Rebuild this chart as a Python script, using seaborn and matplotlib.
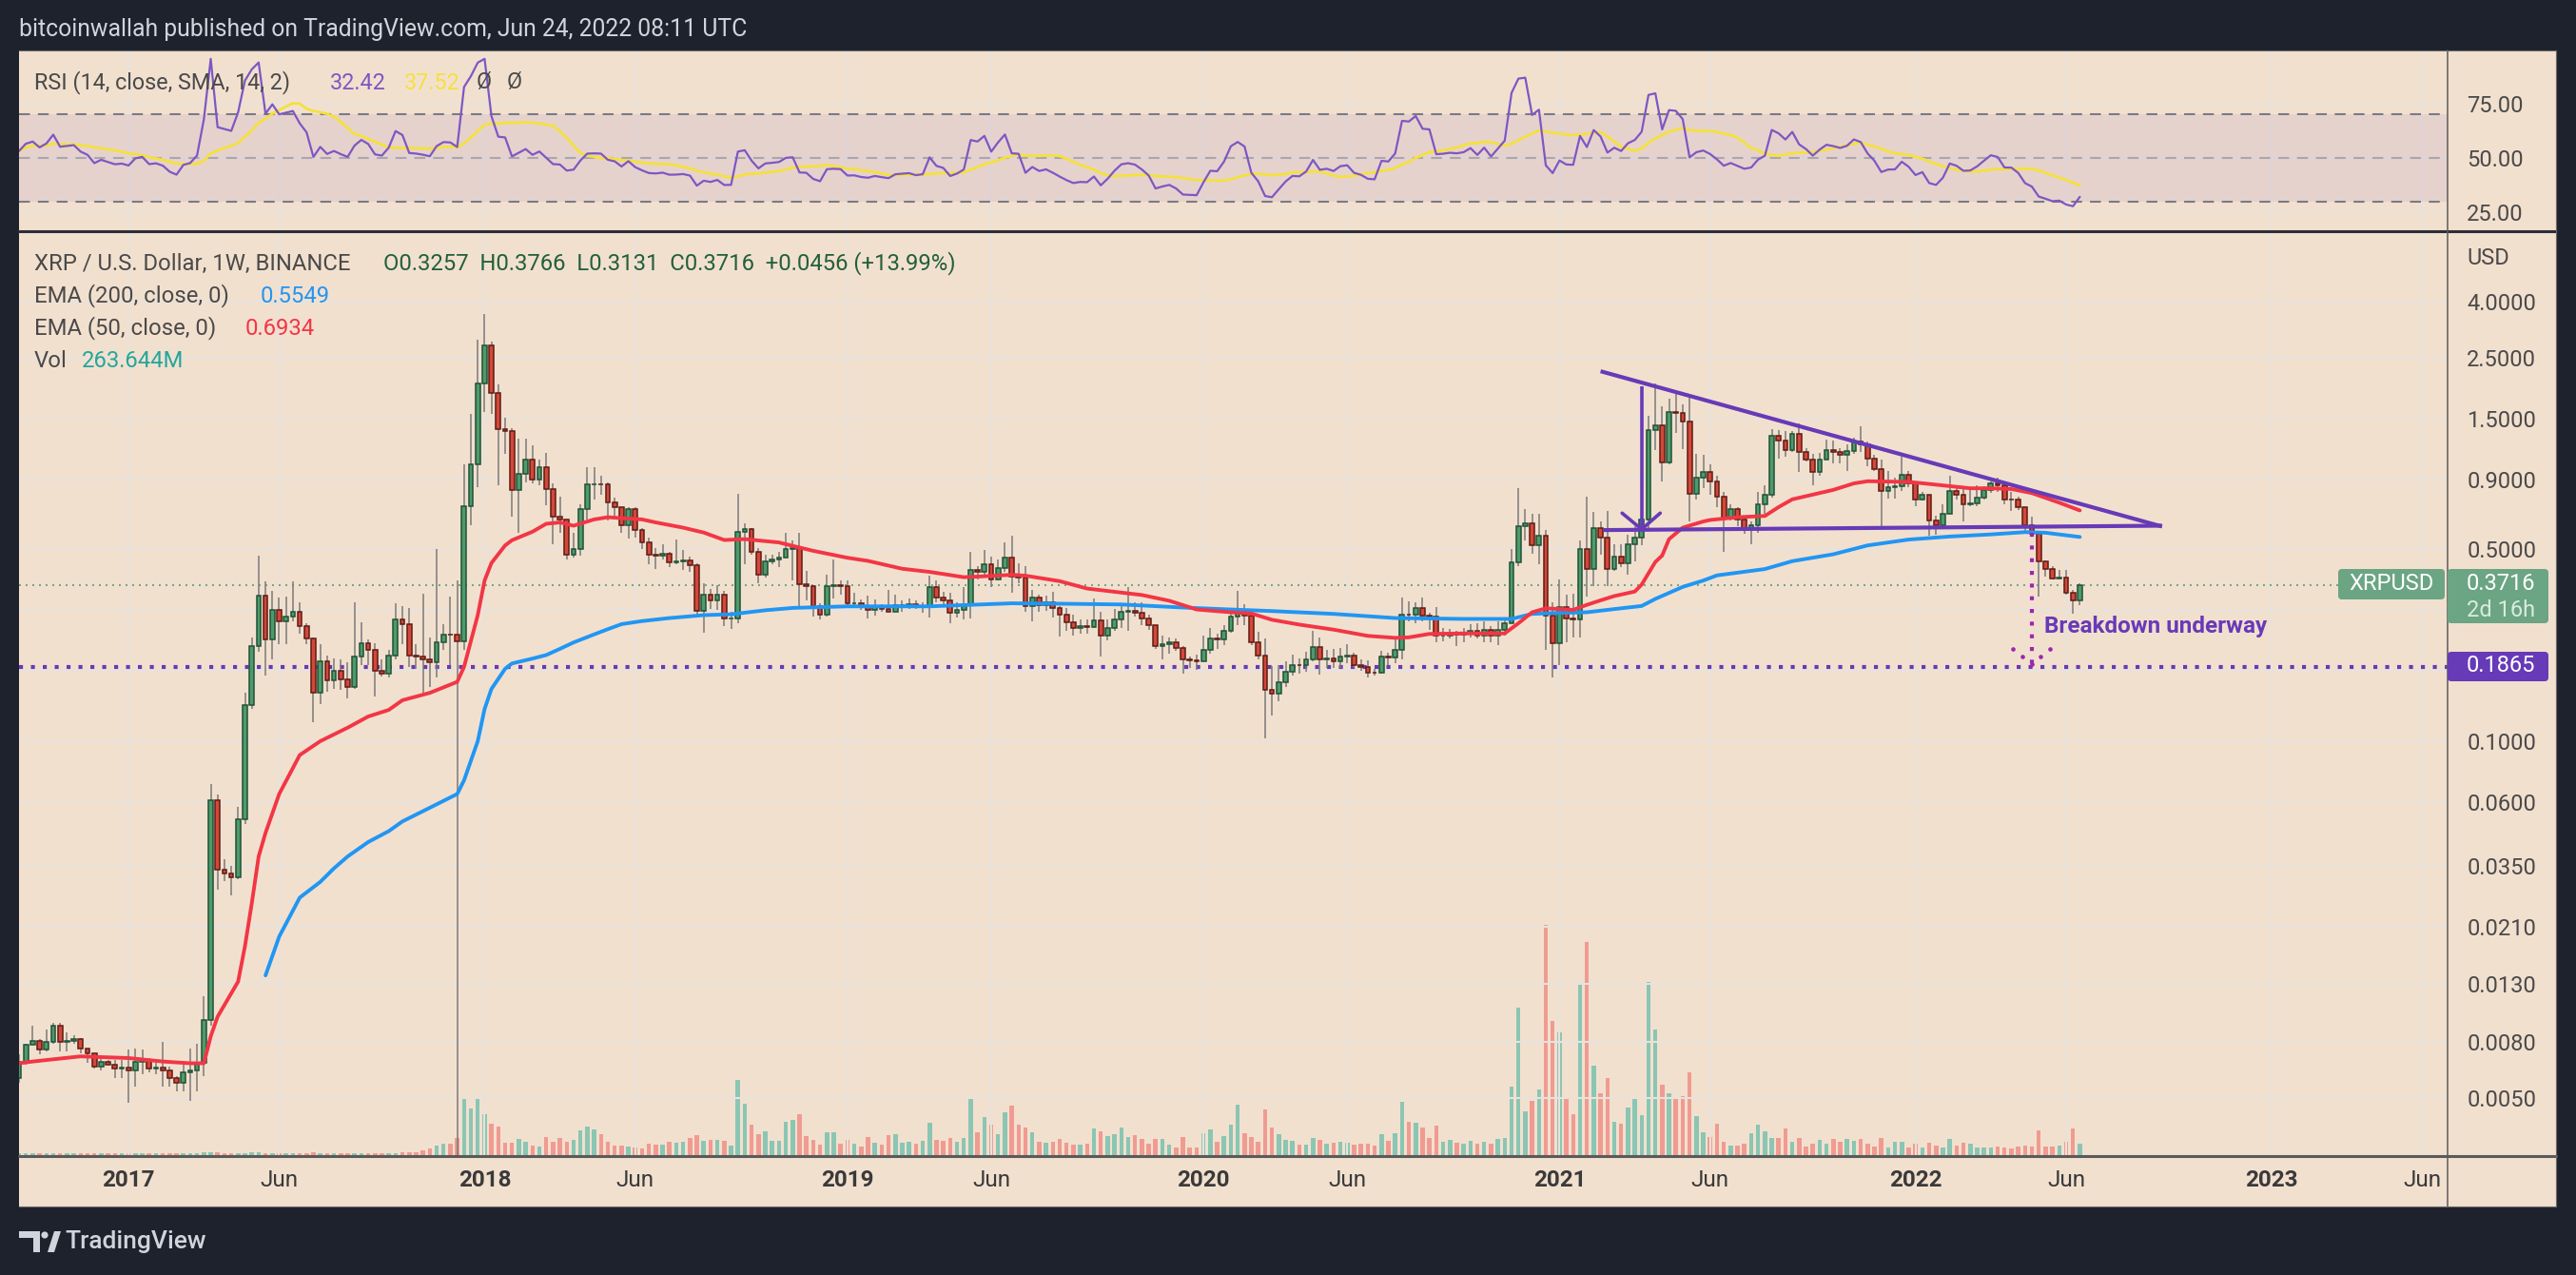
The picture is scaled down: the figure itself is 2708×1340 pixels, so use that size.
import numpy as np
import pandas as pd
import matplotlib
matplotlib.use('Agg')
import matplotlib.pyplot as plt
from matplotlib.patches import Rectangle, FancyBboxPatch, Polygon, Circle
from matplotlib.lines import Line2D
from matplotlib.transforms import IdentityTransform
from matplotlib.ticker import NullLocator, NullFormatter
import seaborn as sns

# ---------------- data (weekly XRP/USD candles) ----------------
first_week = '2016-09-12'
first_open = 0.0059

closes = [
    0.0068, 0.0078, 0.0081, 0.0075, 0.0080, 0.0092, 0.0080, 0.0081, 0.0082, 0.0076,
    0.0073, 0.0065, 0.0068, 0.0066, 0.0064, 0.00645, 0.0063, 0.0068, 0.0069, 0.0064,
    0.00645, 0.0063, 0.0059, 0.0057, 0.0062, 0.0063, 0.0067, 0.0096, 0.061, 0.034,
    0.033, 0.032, 0.052, 0.135, 0.222, 0.34, 0.234, 0.301, 0.273, 0.284,
    0.295, 0.262, 0.236, 0.150, 0.195, 0.167, 0.180, 0.168, 0.158, 0.203,
    0.228, 0.215, 0.180, 0.176, 0.205, 0.278, 0.266, 0.205, 0.203, 0.199,
    0.194, 0.230, 0.245, 0.244, 0.232, 0.72, 1.02, 2.01, 2.76, 1.855,
    1.37, 1.35, 0.823, 0.94, 1.06, 0.90, 1.00, 0.83, 0.656, 0.645,
    0.48, 0.50, 0.70, 0.86, 0.865, 0.86, 0.74, 0.71, 0.61, 0.70,
    0.59, 0.53, 0.48, 0.473, 0.483, 0.45, 0.452, 0.457, 0.437, 0.298,
    0.342, 0.326, 0.342, 0.28, 0.281, 0.58, 0.595, 0.49, 0.405, 0.452,
    0.458, 0.465, 0.50, 0.505, 0.372, 0.368, 0.31, 0.288, 0.367, 0.37,
    0.367, 0.318, 0.319, 0.307, 0.302, 0.31, 0.303, 0.297, 0.312, 0.314,
    0.316, 0.307, 0.31, 0.365, 0.333, 0.325, 0.293, 0.30, 0.312, 0.42,
    0.415, 0.44, 0.388, 0.428, 0.466, 0.397, 0.395, 0.31, 0.333, 0.314,
    0.32, 0.305, 0.288, 0.272, 0.259, 0.262, 0.261, 0.275, 0.242, 0.258,
    0.278, 0.295, 0.298, 0.294, 0.281, 0.264, 0.222, 0.226, 0.229, 0.218,
    0.198, 0.197, 0.196, 0.216, 0.236, 0.235, 0.252, 0.284, 0.294, 0.286,
    0.229, 0.205, 0.154, 0.149, 0.164, 0.179, 0.19, 0.189, 0.198, 0.221,
    0.198, 0.20, 0.195, 0.2035, 0.205, 0.19, 0.186, 0.178, 0.177, 0.2035,
    0.2025, 0.215, 0.289, 0.288, 0.305, 0.286, 0.285, 0.242, 0.243, 0.245,
    0.244, 0.246, 0.253, 0.243, 0.255, 0.242, 0.255, 0.269, 0.449, 0.606,
    0.62, 0.516, 0.559, 0.287, 0.228, 0.309, 0.28, 0.278, 0.50, 0.423,
    0.60, 0.553, 0.424, 0.472, 0.445, 0.52, 0.553, 0.64, 1.366, 1.42,
    1.04, 1.58, 1.57, 1.46, 0.795, 0.916, 0.954, 0.886, 0.781, 0.652,
    0.70, 0.645, 0.591, 0.61, 0.728, 0.788, 1.294, 1.244, 1.155, 1.32,
    1.135, 1.061, 0.954, 1.061, 1.149, 1.13, 1.105, 1.14, 1.24, 1.21,
    1.075, 0.979, 0.817, 0.846, 0.848, 0.933, 0.87, 0.761, 0.79, 0.637,
    0.61, 0.675, 0.817, 0.79, 0.731, 0.734, 0.77, 0.82, 0.87, 0.855,
    0.761, 0.76, 0.712, 0.61, 0.572, 0.453, 0.424, 0.392, 0.395, 0.347,
    0.3257, 0.3716,
]

highs = [
    0.0072, 0.0079, 0.0092, 0.0082, 0.0089, 0.0094, 0.0094, 0.0087, 0.0085, 0.0083,
    0.0076, 0.0073, 0.0071, 0.0069, 0.0069, 0.0069, 0.0075, 0.0076, 0.0075, 0.0070,
    0.0068, 0.0080, 0.0065, 0.0060, 0.0066, 0.0076, 0.0079, 0.0118, 0.070, 0.064,
    0.037, 0.035, 0.0577, 0.150, 0.238, 0.475, 0.382, 0.353, 0.333, 0.336,
    0.382, 0.322, 0.27, 0.238, 0.226, 0.205, 0.20, 0.198, 0.194, 0.322,
    0.271, 0.234, 0.228, 0.198, 0.215, 0.318, 0.31, 0.305, 0.226, 0.346,
    0.238, 0.50, 0.268, 0.336, 0.385, 1.019, 1.559, 2.914, 3.6, 2.87,
    1.996, 1.506, 1.383, 1.266, 1.266, 1.195, 1.065, 1.123, 0.87, 0.78,
    0.644, 0.576, 0.73, 0.997, 1.0, 0.93, 0.88, 0.775, 0.71, 0.71,
    0.71, 0.60, 0.553, 0.505, 0.523, 0.49, 0.545, 0.496, 0.47, 0.445,
    0.375, 0.36, 0.37, 0.352, 0.296, 0.795, 0.62, 0.60, 0.505, 0.48,
    0.48, 0.49, 0.576, 0.54, 0.576, 0.418, 0.37, 0.317, 0.405, 0.458,
    0.385, 0.385, 0.3465, 0.329, 0.339, 0.329, 0.316, 0.356, 0.342, 0.325,
    0.330, 0.325, 0.322, 0.401, 0.384, 0.351, 0.3465, 0.32, 0.365, 0.49,
    0.435, 0.496, 0.47, 0.458, 0.53, 0.56, 0.446, 0.435, 0.357, 0.342,
    0.339, 0.351, 0.31, 0.305, 0.288, 0.277, 0.277, 0.33, 0.2954, 0.277,
    0.303, 0.312, 0.365, 0.322, 0.32, 0.288, 0.2657, 0.242, 0.239, 0.2362,
    0.222, 0.2035, 0.2063, 0.242, 0.2587, 0.2455, 0.2657, 0.2995, 0.354, 0.316,
    0.289, 0.25, 0.2362, 0.188, 0.19, 0.195, 0.2075, 0.2, 0.212, 0.253,
    0.238, 0.216, 0.2175, 0.2195, 0.226, 0.21, 0.198, 0.197, 0.183, 0.2135,
    0.21, 0.238, 0.333, 0.324, 0.32, 0.335, 0.294, 0.307, 0.2586, 0.257,
    0.253, 0.2586, 0.266, 0.269, 0.273, 0.262, 0.273, 0.282, 0.503, 0.838,
    0.702, 0.674, 0.674, 0.588, 0.322, 0.388, 0.342, 0.346, 0.537, 0.78,
    0.683, 0.63, 0.69, 0.523, 0.523, 0.567, 0.606, 0.678, 1.539, 2.005,
    1.667, 1.767, 1.852, 1.689, 1.78, 1.112, 1.105, 1.019, 0.929, 0.813,
    0.731, 0.711, 0.666, 0.631, 0.813, 0.857, 1.375, 1.366, 1.345, 1.345,
    1.44, 1.165, 1.119, 1.125, 1.26, 1.244, 1.165, 1.212, 1.275, 1.402,
    1.238, 1.105, 1.061, 0.966, 0.916, 1.09, 0.966, 0.881, 0.813, 0.792,
    0.662, 0.731, 0.929, 0.857, 0.835, 0.83, 0.857, 0.853, 0.881, 0.916,
    0.857, 0.813, 0.781, 0.714, 0.658, 0.578, 0.455, 0.433, 0.42, 0.42,
    0.355, 0.3766,
]

lows = [
    0.0057, 0.0066, 0.0078, 0.0072, 0.0074, 0.0079, 0.0074, 0.0074, 0.0079, 0.0073,
    0.0067, 0.0064, 0.0063, 0.0066, 0.0059, 0.0059, 0.0048, 0.0055, 0.0061, 0.0062,
    0.0061, 0.0055, 0.0055, 0.0053, 0.0053, 0.0049, 0.0053, 0.0060, 0.0092, 0.0288,
    0.031, 0.0274, 0.0315, 0.050, 0.131, 0.212, 0.173, 0.198, 0.226, 0.226,
    0.273, 0.247, 0.226, 0.117, 0.137, 0.152, 0.155, 0.154, 0.143, 0.155,
    0.19, 0.19, 0.145, 0.172, 0.171, 0.198, 0.226, 0.186, 0.183, 0.150,
    0.158, 0.171, 0.215, 0.19, 0.002, 0.2147, 0.614, 0.845, 1.58, 1.559,
    0.857, 1.118, 0.656, 0.575, 0.88, 0.87, 0.857, 0.726, 0.523, 0.576,
    0.458, 0.468, 0.476, 0.644, 0.76, 0.79, 0.639, 0.65, 0.575, 0.548,
    0.553, 0.503, 0.443, 0.425, 0.458, 0.43, 0.44, 0.42, 0.414, 0.288,
    0.248, 0.304, 0.302, 0.262, 0.256, 0.27, 0.44, 0.48, 0.375, 0.395,
    0.44, 0.432, 0.468, 0.385, 0.3115, 0.327, 0.284, 0.278, 0.284, 0.332,
    0.342, 0.3115, 0.307, 0.302, 0.28, 0.2865, 0.297, 0.2954, 0.297, 0.297,
    0.303, 0.303, 0.294, 0.282, 0.320, 0.312, 0.2695, 0.282, 0.277, 0.28,
    0.388, 0.394, 0.365, 0.384, 0.414, 0.3465, 0.377, 0.297, 0.273, 0.297,
    0.2995, 0.282, 0.24, 0.2533, 0.242, 0.2455, 0.2467, 0.2587, 0.2035, 0.2326,
    0.2533, 0.2587, 0.252, 0.284, 0.2657, 0.2553, 0.2164, 0.198, 0.209, 0.2142,
    0.176, 0.185, 0.182, 0.1956, 0.209, 0.2164, 0.2235, 0.2487, 0.2657, 0.2657,
    0.2235, 0.198, 0.102, 0.124, 0.14, 0.158, 0.174, 0.176, 0.179, 0.195,
    0.175, 0.185, 0.185, 0.185, 0.1925, 0.185, 0.1806, 0.1706, 0.1733, 0.176,
    0.189, 0.1925, 0.198, 0.273, 0.269, 0.274, 0.255, 0.23, 0.231, 0.236,
    0.222, 0.23, 0.239, 0.236, 0.23, 0.23, 0.2234, 0.242, 0.27, 0.435,
    0.537, 0.483, 0.443, 0.216, 0.1706, 0.19, 0.23, 0.239, 0.239, 0.336,
    0.367, 0.479, 0.367, 0.417, 0.43, 0.405, 0.452, 0.519, 0.582, 1.149,
    0.881, 1.019, 1.33, 1.163, 0.631, 0.761, 0.835, 0.792, 0.711, 0.49,
    0.637, 0.607, 0.57, 0.523, 0.575, 0.675, 0.771, 1.075, 1.09, 1.133,
    0.954, 1.047, 0.857, 0.929, 1.068, 1.033, 1.033, 0.966, 1.119, 1.133,
    1.005, 0.966, 0.604, 0.765, 0.767, 0.817, 0.846, 0.72, 0.752, 0.56,
    0.565, 0.591, 0.69, 0.761, 0.631, 0.72, 0.72, 0.761, 0.802, 0.813,
    0.731, 0.69, 0.695, 0.575, 0.57, 0.3375, 0.397, 0.387, 0.389, 0.343,
    0.292, 0.3131,
]

# weekly volume, millions
volume_m = [
    43, 43, 50, 43, 36, 43, 43, 50, 43, 43,
    36, 43, 43, 43, 36, 43, 50, 43, 43, 36,
    43, 43, 43, 50, 43, 43, 43, 57, 71, 57,
    50, 50, 43, 50, 57, 57, 50, 50, 43, 43,
    43, 43, 50, 57, 50, 43, 43, 43, 43, 43,
    43, 43, 43, 43, 43, 50, 57, 64, 71, 100,
    143, 214, 264, 264, 393, 1285, 1057, 1271, 928, 714,
    650, 286, 286, 371, 307, 214, 193, 414, 307, 393,
    307, 336, 564, 650, 585, 478, 307, 221, 221, 200,
    171, 157, 257, 243, 243, 307, 286, 307, 393, 457,
    328, 350, 350, 328, 214, 1678, 1164, 693, 478, 543,
    328, 328, 757, 800, 928, 436, 350, 243, 521, 521,
    264, 350, 264, 200, 414, 286, 243, 457, 478, 286,
    307, 264, 328, 735, 350, 328, 393, 307, 393, 1271,
    521, 864, 693, 478, 971, 1121, 693, 628, 521, 307,
    286, 307, 371, 286, 243, 243, 264, 607, 543, 436,
    478, 628, 414, 457, 371, 264, 371, 371, 243, 179,
    414, 179, 179, 500, 585, 307, 436, 693, 1142, 500,
    414, 307, 1035, 628, 478, 350, 328, 243, 243, 393,
    350, 264, 286, 307, 286, 243, 264, 264, 221, 478,
    328, 500, 1207, 757, 735, 628, 393, 671, 307, 350,
    286, 264, 328, 264, 307, 264, 371, 393, 1528, 3306,
    992, 1228, 1464, 5169, 3006, 2749, 1250, 928, 3820, 4784,
    1999, 1378, 1721, 757, 714, 1078, 1271, 907, 3884, 2813,
    1571, 1378, 1292, 1335, 1849, 885, 521, 414, 714, 307,
    221, 221, 264, 500, 693, 543, 393, 393, 607, 307,
    393, 200, 264, 350, 264, 371, 307, 371, 328, 371,
    264, 200, 393, 179, 307, 307, 179, 264, 179, 286,
    221, 171, 371, 221, 286, 264, 179, 179, 179, 200,
    179, 157, 200, 221, 200, 564, 200, 200, 221, 307,
    607, 263.644,
]

# EMA values at selected candles (1 = first candle)
ema50_idx = [1, 3, 10, 17, 22, 26, 28, 29, 30, 33, 34, 35, 36, 37, 39, 42, 45, 49, 52, 55,
             57, 61, 65, 66, 68, 69, 70, 72, 73, 76, 78, 80, 82, 85, 87, 89, 92, 94, 98, 101,
             104, 107, 112, 114, 117, 122, 125, 130, 134, 139, 141, 146, 148, 153, 157, 162, 165, 169, 173, 178,
             181, 184, 188, 193, 198, 202, 204, 207, 212, 218, 220, 222, 224, 228, 230, 232, 234, 237, 238, 240,
             241, 242, 244, 247, 248, 252, 256, 258, 260, 266, 269, 271, 277, 280, 286, 289, 292, 295, 299, 302]
ema50_val = [0.0067, 0.0068, 0.0071, 0.0070, 0.0068, 0.0067, 0.0067, 0.0084, 0.0099, 0.0133,
             0.0179, 0.0257, 0.038, 0.0463, 0.0642, 0.089, 0.100, 0.112, 0.123, 0.130,
             0.141, 0.150, 0.1645, 0.1865, 0.288, 0.385, 0.446, 0.517, 0.54, 0.58,
             0.62, 0.627, 0.61, 0.643, 0.655, 0.65, 0.643, 0.627, 0.60, 0.576,
             0.541, 0.545, 0.53, 0.515, 0.494, 0.466, 0.454, 0.425, 0.414, 0.396,
             0.398, 0.404, 0.401, 0.383, 0.36, 0.348, 0.341, 0.325, 0.302, 0.295,
             0.292, 0.277, 0.266, 0.255, 0.242, 0.238, 0.239, 0.246, 0.247, 0.247,
             0.269, 0.295, 0.305, 0.301, 0.314, 0.326, 0.338, 0.351, 0.372, 0.45,
             0.475, 0.545, 0.60, 0.632, 0.64, 0.655, 0.662, 0.713, 0.761, 0.824,
             0.87, 0.886, 0.881, 0.866, 0.835, 0.835, 0.83, 0.802, 0.74, 0.6934]

ema200_idx = [37, 39, 42, 45, 47, 49, 52, 55, 57, 61, 65, 66, 68, 69, 70, 72, 73, 76, 78, 80,
              82, 85, 87, 89, 92, 96, 101, 105, 110, 114, 122, 134, 146, 153, 162, 171, 178, 184, 193, 202,
              212, 219, 222, 225, 230, 234, 238, 240, 244, 247, 249, 256, 260, 266, 271, 277, 283, 289, 294, 297,
              302]
ema200_val = [0.014, 0.0194, 0.0269, 0.0307, 0.0344, 0.038, 0.0429, 0.047, 0.051, 0.0572,
              0.0642, 0.072, 0.10, 0.131, 0.155, 0.1836, 0.192, 0.20, 0.206, 0.217,
              0.229, 0.245, 0.256, 0.267, 0.274, 0.281, 0.288, 0.29, 0.30, 0.306,
              0.31, 0.31, 0.318, 0.317, 0.315, 0.307, 0.302, 0.298, 0.291, 0.281,
              0.279, 0.279, 0.291, 0.293, 0.295, 0.303, 0.311, 0.33, 0.365, 0.385,
              0.402, 0.424, 0.453, 0.48, 0.517, 0.543, 0.557, 0.567, 0.578, 0.575,
              0.5549]

# RSI averages carried in from the history before the first visible candle
rsi_seed_gain = 0.0005
rsi_seed_loss = 0.0005

# drawings on the chart
tri_upper = (['2021-02-15', '2022-09-12'], [2.23, 0.606])
tri_base = (['2021-02-18', '2022-09-12'], [0.588, 0.61])
pole = (['2021-03-29', '2021-03-29'], [1.96, 0.59])
chevron = (['2021-03-09', '2021-03-29', '2021-04-17'], [0.678, 0.592, 0.678])
drop_line = (['2022-05-02', '2022-05-02'], [0.575, 0.1905])
drop_head = (['2022-04-13', '2022-04-22', '2022-05-02', '2022-05-11', '2022-05-20'],
             [0.2175, 0.2035, 0.1905, 0.2035, 0.2175])
support_level = 0.1865
last_price = 0.3716
note_pos = ('2022-05-15', 0.262)

price_ticks = [4.0, 2.5, 1.5, 0.9, 0.5, 0.3, 0.18, 0.1, 0.06, 0.035, 0.021, 0.013, 0.008, 0.005]
price_labels = ['4.0000', '2.5000', '1.5000', '0.9000', '0.5000', '', '', '0.1000', '0.0600',
                '0.0350', '0.0210', '0.0130', '0.0080', '0.0050']
time_ticks = ['2017-01-02', '2017-06-05', '2018-01-01', '2018-06-04', '2019-01-07', '2019-06-03',
              '2020-01-06', '2020-06-01', '2021-01-04', '2021-06-07', '2022-01-03', '2022-06-06',
              '2023-01-02', '2023-06-05']
time_labels = ['2017', 'Jun', '2018', 'Jun', '2019', 'Jun', '2020', 'Jun', '2021', 'Jun',
               '2022', 'Jun', '2023', 'Jun']

# ---------------- derived frame ----------------
df = pd.DataFrame({'close': closes, 'high': highs, 'low': lows, 'vol': volume_m})
df['date'] = pd.date_range(first_week, periods=len(df), freq='7D')
df['open'] = df['close'].shift(1).fillna(first_open)
df['up'] = df['close'] >= df['open']

# RSI 14 (Wilder) + SMA 14
delta = df['close'] - df['open']
gain = delta.clip(lower=0)
loss = -delta.clip(upper=0)
gain = pd.concat([pd.Series([rsi_seed_gain]), gain], ignore_index=True).ewm(alpha=1 / 14, adjust=False).mean().iloc[1:]
loss = pd.concat([pd.Series([rsi_seed_loss]), loss], ignore_index=True).ewm(alpha=1 / 14, adjust=False).mean().iloc[1:]
df['rsi'] = (100 - 100 / (1 + gain / loss)).values
df['rsi_sma'] = df['rsi'].rolling(14, min_periods=1).mean()

# ---------------- style ----------------
sns.set_theme(style='white')
plt.rcParams['font.family'] = ['Roboto', 'DejaVu Sans']

W, H = 2708, 1340
DARK = '#1e222d'
PANE = '#f2e0cf'
GRID = '#e8e2dc'
TXT = '#4a4a4a'
PURPLE = '#673ab7'
GREEN_FILL, GREEN_EDGE = '#4f9a6c', '#1f5236'
RED_FILL, RED_EDGE = '#d3483a', '#5e1b14'

def rect(x0, y0, x1, y1):
    return [x0 / W, 1 - y1 / H, (x1 - x0) / W, (y1 - y0) / H]

def ftext(x, y, s, **kw):
    kw.setdefault('va', 'center')
    fig.text(x / W, 1 - y / H, s, **kw)

def pxline(x0, y0, x1, y1, **kw):
    fig.add_artist(Line2D([x0, x1], [H - y0, H - y1], transform=IdentityTransform(), **kw))

fig = plt.figure(figsize=(W / 100, H / 100), dpi=100, facecolor=DARK)
fig.add_artist(Rectangle((20, H - 1268), 2667, 1215, transform=IdentityTransform(),
                         facecolor=PANE, edgecolor='none', zorder=-10))

xlim = (pd.Timestamp('2016-09-12'), pd.Timestamp('2023-07-01'))
tdates = pd.to_datetime(time_ticks)

# volume pane (behind price)
axv = fig.add_axes(rect(20, 245, 2573, 1214))
axv.set_zorder(1)
axv.patch.set_visible(False)
vcol = np.where(df['up'], '#8ac6b3', '#f09b91')
axv.bar(df['date'], df['vol'], width=4.4, color=vcol, linewidth=0)
axv.set_xlim(xlim)
axv.set_ylim(0, df['vol'].max() / 0.2497)
axv.axis('off')

# price pane
ax = fig.add_axes(rect(20, 245, 2573, 1214))
ax.set_zorder(2)
ax.patch.set_visible(False)
ax.set_yscale('log')
ax.set_xlim(xlim)
ax.set_ylim(0.0031, 7.107)
ax.set_axisbelow(True)

body_lo = np.minimum(df['open'], df['close'])
body_h = (df['close'] - df['open']).abs()
ax.vlines(df['date'], df['low'], df['high'], color='#7a7a7a', lw=1.1, zorder=3)
ax.bar(df['date'], body_h, bottom=body_lo, width=4.6,
       color=np.where(df['up'], GREEN_FILL, RED_FILL),
       edgecolor=np.where(df['up'], GREEN_EDGE, RED_EDGE), linewidth=1.1, zorder=4)

sns.lineplot(x=df['date'].iloc[np.array(ema200_idx) - 1].values, y=ema200_val, ax=ax,
             color='#2196f3', lw=2.8, zorder=5)
sns.lineplot(x=df['date'].iloc[np.array(ema50_idx) - 1].values, y=ema50_val, ax=ax,
             color='#f23645', lw=2.8, zorder=6)

ax.axhline(last_price, color='#6ba583', lw=1.4, ls=(0, (1, 2.6)), zorder=2)
ax.axhline(support_level, color=PURPLE, lw=3, ls=(0, (1, 2)), dash_capstyle='butt', zorder=2)

def dline(pts, **kw):
    ax.plot(pd.to_datetime(pts[0]), pts[1], **kw)

dline(tri_upper, color=PURPLE, lw=3, solid_capstyle='butt', zorder=7)
dline(tri_base, color=PURPLE, lw=3, solid_capstyle='butt', zorder=7)
dline(pole, color=PURPLE, lw=2.6, solid_capstyle='butt', zorder=7)
dline(chevron, color=PURPLE, lw=2.6, zorder=7)
dline(drop_line, color='#9c27b0', lw=3, ls=(0, (1, 2.2)), dash_capstyle='butt', zorder=7)
ax.scatter(pd.to_datetime(drop_head[0]), drop_head[1], s=11, color='#9c27b0', marker='o',
           linewidths=0, zorder=7)
ax.text(pd.Timestamp(note_pos[0]), note_pos[1], 'Breakdown underway', color=PURPLE,
        fontsize=17.5, fontweight='bold', va='center', ha='left', zorder=8)

ax.set_yticks(price_ticks)
ax.set_yticklabels(price_labels)
ax.yaxis.set_minor_locator(NullLocator())
ax.yaxis.set_minor_formatter(NullFormatter())
ax.yaxis.tick_right()
ax.set_xticks(tdates)
ax.set_xticklabels(time_labels)
ax.tick_params(axis='y', length=0, pad=14.5, labelsize=17, labelcolor=TXT)
ax.tick_params(axis='x', length=0, pad=11, labelsize=17.5, labelcolor='#3a3a3a')
for lab in ax.get_xticklabels():
    if lab.get_text() != 'Jun':
        lab.set_fontweight('bold')
ax.grid(True, color=GRID, lw=1.5)
for s in ax.spines.values():
    s.set_visible(False)
ax.set_xlabel('')
ax.set_ylabel('')

# RSI pane
axr = fig.add_axes(rect(20, 53, 2573, 242))
axr.set_zorder(2)
axr.patch.set_visible(False)
axr.set_xlim(xlim)
axr.set_ylim(16.7, 99.6)
axr.set_axisbelow(True)
axr.axhspan(30, 70, color='#7e57c2', alpha=0.1, lw=0, zorder=1)
axr.axhline(70, color='#787b86', lw=1.5, ls=(0, (5.5, 4)), zorder=2)
axr.axhline(30, color='#787b86', lw=1.5, ls=(0, (5.5, 4)), zorder=2)
axr.axhline(50, color='#787b86', lw=1.5, ls=(0, (5.5, 4)), alpha=0.5, zorder=2)
sns.lineplot(x=df['date'], y=df['rsi_sma'], ax=axr, color='#f5e13c', lw=2.0, zorder=3)
sns.lineplot(x=df['date'], y=df['rsi'], ax=axr, color='#7e57c2', lw=1.6, zorder=4)
axr.set_yticks([25, 50, 75])
axr.set_yticklabels(['25.00', '50.00', '75.00'])
axr.yaxis.tick_right()
axr.set_xticks(tdates)
axr.tick_params(axis='y', length=0, pad=14.5, labelsize=17, labelcolor=TXT)
axr.tick_params(axis='x', length=0, labelbottom=False)
axr.grid(True, color=GRID, lw=1.5)
for s in axr.spines.values():
    s.set_visible(False)
axr.set_xlabel('')
axr.set_ylabel('')

# frame / separators
pxline(20, 242.5, 2687, 242.5, color='#2a2e39', lw=2.2, zorder=30)
pxline(20, 1215, 2687, 1215, color='#5a5a5a', lw=2.2, zorder=30)
pxline(2573, 53, 2573, 1268, color='#5a5a5a', lw=1.1, zorder=30)
pxline(20, 53, 2687, 53, color='#6a6a6a', lw=0.8, zorder=30)
pxline(2687, 53, 2687, 1268, color='#6a6a6a', lw=0.8, zorder=30)
pxline(20, 1268, 2687, 1268, color='#6a6a6a', lw=0.8, zorder=30)

# price tags on the axis
def tag(x0, y0, x1, y1, color):
    fig.add_artist(FancyBboxPatch((x0, H - y1), x1 - x0, y1 - y0,
                                  boxstyle='round,pad=0,rounding_size=4',
                                  transform=IdentityTransform(), fc=color, ec='none', zorder=40))

tag(2458, 598, 2570, 630, '#6ba583')
tag(2573, 598, 2679, 655, '#6ba583')
tag(2573, 685, 2679, 716, PURPLE)
ftext(2514, 614, 'XRPUSD', color='white', fontsize=17, ha='center', zorder=41)
ftext(2593, 614, '0.3716', color='white', fontsize=17, zorder=41)
ftext(2593, 641, '2d 16h', color='#d8ecdf', fontsize=17, zorder=41)
ftext(2593, 700, '0.1865', color='white', fontsize=17, zorder=41)
ftext(2593, 271, 'USD', color=TXT, fontsize=17)

# header and legends
ftext(20, 31, 'bitcoinwallah published on TradingView.com, Jun 24, 2022 08:11 UTC',
      color='#d1d4dc', fontsize=17.8)
ftext(36, 87, 'RSI (14, close, SMA, 14, 2)', color=TXT, fontsize=16.8)
ftext(347, 87, '32.42', color='#7e57c2', fontsize=16.8)
ftext(425, 87, '37.52', color='#f5e13c', fontsize=16.8)
ftext(501, 87, '\u00d8', color=TXT, fontsize=16.8)
ftext(533, 87, '\u00d8', color=TXT, fontsize=16.8)

ftext(36, 277, 'XRP / U.S. Dollar, 1W, BINANCE', color=TXT, fontsize=17.2)
ftext(403, 277, 'O0.3257  H0.3766  L0.3131  C0.3716  +0.0456 (+13.99%)', color='#22603a', fontsize=17.2)
ftext(36, 311, 'EMA (200, close, 0)', color=TXT, fontsize=17.2)
ftext(274, 311, '0.5549', color='#2196f3', fontsize=17.2)
ftext(36, 345, 'EMA (50, close, 0)', color=TXT, fontsize=17.2)
ftext(258, 345, '0.6934', color='#f23645', fontsize=17.2)
ftext(36, 379, 'Vol', color=TXT, fontsize=17.2)
ftext(86, 379, '263.644M', color='#26a69a', fontsize=17.2)

# footer logo
LOGO = '#d1d4dc'
fig.add_artist(Polygon([(20, H - 1294), (42, H - 1294), (42, H - 1316), (35, H - 1316),
                        (35, H - 1301), (20, H - 1301)], closed=True,
                       transform=IdentityTransform(), fc=LOGO, ec='none'))
fig.add_artist(Circle((47, H - 1298), 3.6, transform=IdentityTransform(), fc=LOGO, ec='none'))
fig.add_artist(Polygon([(50, H - 1316), (57, H - 1294), (64, H - 1294), (57, H - 1316)],
                       closed=True, transform=IdentityTransform(), fc=LOGO, ec='none'))
ftext(68, 1305, 'TradingView', color=LOGO, fontsize=19, fontweight='medium')

fig.savefig('out.png', dpi=100, facecolor=DARK)
